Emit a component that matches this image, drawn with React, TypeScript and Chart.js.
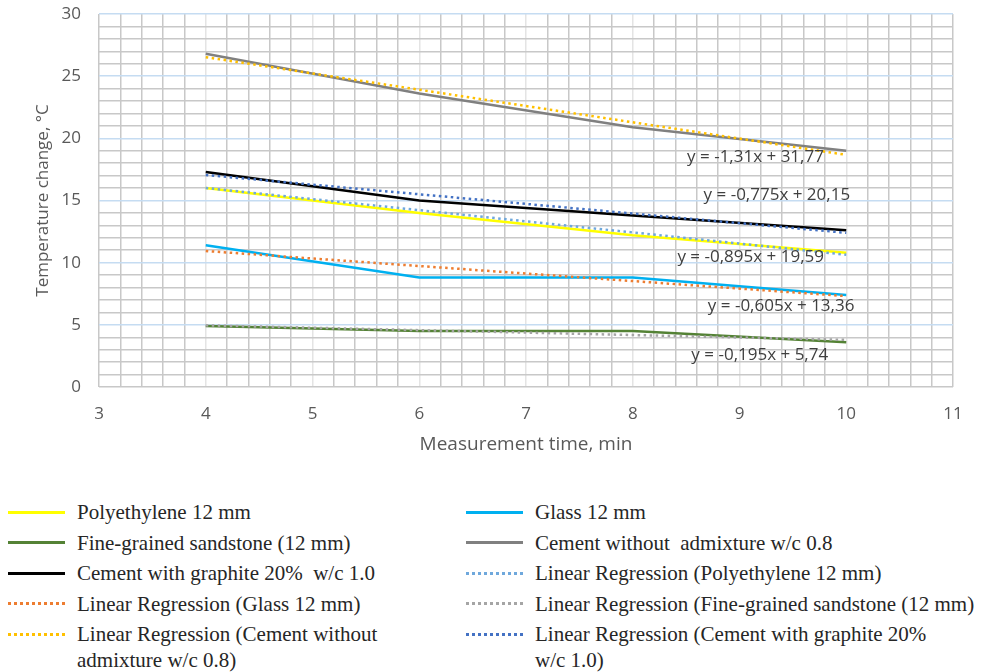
import React, { useEffect, useRef } from 'react';
import { Chart, registerables } from 'chart.js';

Chart.register(...registerables);

// ---- data ----
const timePoints = [4, 6, 8, 10];

const polyethylene = [16.0, 14.0, 12.2, 10.8];
const glass = [11.4, 8.8, 8.8, 7.4];
const sandstone = [4.9, 4.5, 4.5, 3.6];
const cementWithout = [26.8, 23.6, 20.9, 19.0];
const cementGraphite = [17.3, 15.0, 13.8, 12.6];

const seriesNames = [
  'Polyethylene 12 mm',
  'Glass 12 mm',
  'Fine-grained sandstone (12 mm)',
  'Cement without  admixture w/c 0.8',
  'Cement with graphite 20%  w/c 1.0',
];
const seriesValues = [polyethylene, glass, sandstone, cementWithout, cementGraphite];
const seriesColors = ['#ffff00', '#00b0f0', '#548235', '#808080', '#000000'];

// trend lines
const regressionSlopes = [-0.895, -0.605, -0.195, -1.31, -0.775];
const regressionIntercepts = [19.59, 13.36, 5.74, 31.77, 20.15];
const regressionNames = [
  'Linear Regression (Polyethylene 12 mm)',
  'Linear Regression (Glass 12 mm)',
  'Linear Regression (Fine-grained sandstone (12 mm)',
  'Linear Regression (Cement without\nadmixture w/c 0.8)',
  'Linear Regression (Cement with graphite 20%\nw/c 1.0)',
];
const regressionColors = ['#6fa8dc', '#ed7d31', '#a5a5a5', '#ffc000', '#4472c4'];

// equation label anchors (data coordinates)
const equationAnchors = [
  { x: 9.105, y: 10.45 },
  { x: 9.39, y: 6.48 },
  { x: 9.19, y: 2.54 },
  { x: 9.15, y: 18.48 },
  { x: 9.35, y: 15.42 },
];

const xTitle = 'Measurement time, min';
const yTitle = 'Temperature change, °C';

const fmt = (v: number) => String(v).replace('.', ',');
const isInt = (v: number) => Math.abs(v - Math.round(v)) < 1e-6;

const equationPlugin = {
  id: 'equations',
  afterDatasetsDraw(chart: any) {
    const { ctx, scales } = chart;
    const xs = scales.x;
    const ys = scales.y;
    ctx.save();
    ctx.font = '17px "Open Sans"';
    ctx.fillStyle = '#404040';
    ctx.textAlign = 'center';
    ctx.textBaseline = 'middle';
    regressionSlopes.forEach((s, i) => {
      const a = equationAnchors[i];
      const txt = `y = ${fmt(s)}x + ${fmt(regressionIntercepts[i])}`;
      ctx.fillText(txt, xs.getPixelForValue(a.x), ys.getPixelForValue(a.y));
    });
    ctx.restore();
  },
};

type LegendItem = { name: string; color: string; dotted: boolean };

const legendItems: LegendItem[] = [
  ...seriesNames.map((n, i) => ({ name: n, color: seriesColors[i], dotted: false })),
  ...regressionNames.map((n, i) => ({ name: n, color: regressionColors[i], dotted: true })),
];

export default function App() {
  const canvasRef = useRef<HTMLCanvasElement | null>(null);

  useEffect(() => {
    if (!canvasRef.current) return;
    const dataDatasets = seriesValues.map((vals, i) => ({
      label: seriesNames[i],
      data: vals.map((v, j) => ({ x: timePoints[j], y: v })),
      borderColor: seriesColors[i],
      backgroundColor: seriesColors[i],
      borderWidth: 2.5,
      pointRadius: 0,
      tension: 0,
      order: 1,
    }));
    const xStart = timePoints[0];
    const xEnd = timePoints[timePoints.length - 1];
    const regDatasets = regressionSlopes.map((s, i) => ({
      label: regressionNames[i],
      data: [
        { x: xStart, y: s * xStart + regressionIntercepts[i] },
        { x: xEnd, y: s * xEnd + regressionIntercepts[i] },
      ],
      borderColor: regressionColors[i],
      backgroundColor: regressionColors[i],
      borderWidth: 2.5,
      borderDash: [2.5, 3.5],
      borderCapStyle: 'butt',
      pointRadius: 0,
      tension: 0,
      order: 0,
    }));

    const tickFont = { family: '"Open Sans"', size: 17 };
    const chart = new Chart(canvasRef.current, {
      type: 'line',
      data: { datasets: [...dataDatasets, ...regDatasets] as any },
      options: {
        animation: false,
        responsive: false,
        maintainAspectRatio: false,
        devicePixelRatio: 1,
        layout: { padding: { left: 0, right: 40, top: 14, bottom: 0 } },
        plugins: { legend: { display: false }, tooltip: { enabled: false } },
        scales: {
          x: {
            type: 'linear',
            min: 3,
            max: 11,
            afterFit: (s: any) => {
              s.height = 83;
              s.paddingLeft = 0;
              s.paddingRight = 0;
            },
            border: { display: false },
            grid: {
              drawTicks: false,
              lineWidth: 1.5,
              color: (c: any) => {
                const v = c.tick ? c.tick.value : 0;
                if (isInt(v) && v > 3.01 && v < 10.99) return '#e4e4e4';
                return '#c8c8c8';
              },
            },
            ticks: {
              stepSize: 0.2,
              autoSkip: false,
              maxRotation: 0,
              minRotation: 0,
              padding: 17,
              color: '#595959',
              font: tickFont,
              callback: (v: any) => (isInt(Number(v)) ? String(Math.round(Number(v))) : ''),
            },
            title: {
              display: true,
              text: xTitle,
              color: '#595959',
              font: { family: '"Open Sans"', size: 19 },
              padding: { top: 0, bottom: 14 },
            },
          },
          y: {
            type: 'linear',
            min: 0,
            max: 30,
            afterFit: (s: any) => {
              s.width = 99;
              s.paddingTop = 0;
              s.paddingBottom = 0;
            },
            border: { display: false },
            grid: {
              drawTicks: false,
              lineWidth: 1.5,
              color: (c: any) => {
                const v = c.tick ? c.tick.value : 0;
                if (v > 0 && Math.round(v) % 5 === 0) return '#c5dcf2';
                return '#c8c8c8';
              },
            },
            ticks: {
              stepSize: 1,
              autoSkip: false,
              padding: 18,
              color: '#595959',
              font: tickFont,
              callback: (v: any) => (Math.round(Number(v)) % 5 === 0 ? String(Math.round(Number(v))) : ''),
            },
            title: {
              display: true,
              text: yTitle,
              color: '#595959',
              font: tickFont,
              padding: { top: 33, bottom: 0 },
            },
          },
        },
      },
      plugins: [equationPlugin],
    });
    return () => chart.destroy();
  }, []);

  return (
    <div style={{ position: 'absolute', left: 0, top: 0, width: 993, height: 672, background: '#fff' }}>
      <canvas ref={canvasRef} width={993} height={470} style={{ display: 'block' }} />
      <div
        style={{
          position: 'absolute',
          left: 8,
          top: 499,
          width: 985,
          display: 'grid',
          gridTemplateColumns: '458px 527px',
          rowGap: 4.5,
          fontFamily: '"Liberation Serif", "Times New Roman", serif',
          fontSize: 21,
          lineHeight: '26px',
          color: '#262626',
        }}
      >
        {legendItems.map((it, i) => (
          <div key={i} style={{ display: 'flex', alignItems: 'flex-start' }}>
            <div
              style={{
                width: 57,
                height: 3,
                marginTop: 11.5,
                flex: '0 0 auto',
                background: it.dotted
                  ? `repeating-linear-gradient(to right, ${it.color} 0px, ${it.color} 3px, transparent 3px, transparent 6px)`
                  : it.color,
              }}
            />
            <div style={{ marginLeft: 12, whiteSpace: 'pre' }}>{it.name}</div>
          </div>
        ))}
      </div>
    </div>
  );
}
